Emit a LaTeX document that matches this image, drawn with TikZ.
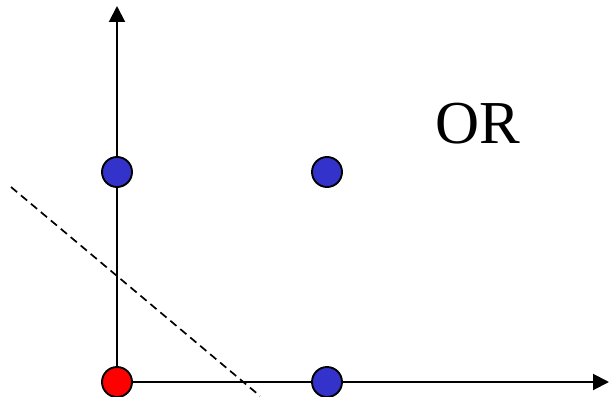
\documentclass[tikz,border=0pt]{standalone}
\usepackage{fontspec}
\setmainfont{Liberation Serif}
\usetikzlibrary{arrows.meta, backgrounds}

\begin{document}
\begin{tikzpicture}[x=1pt, y=-1pt,
    dot/.style={circle, draw, line width=1.9pt, minimum size=30pt, inner sep=0pt},
    ax/.style={-{Triangle[length=16pt, width=16pt]}, line width=2pt},
    sep/.style={line width=1.7pt, dash pattern=on 8pt off 5pt}
]
    \useasboundingbox (0,0) rectangle (609,396);
    \coordinate (ytip) at (117,6);
    \coordinate (xtip) at (609,382);
    \coordinate (cutA) at (11,187);
    \coordinate (cutB) at (260,396);
    \node[dot, fill=red] (p00) at (117,382) {};
    \node[dot, fill={rgb,255:red,51;green,51;blue,204}] (p01) at (117,172) {};
    \node[dot, fill={rgb,255:red,51;green,51;blue,204}] (p11) at (327,172) {};
    \node[dot, fill={rgb,255:red,51;green,51;blue,204}] (p10) at (327,382) {};
    \node[anchor=base, inner sep=0pt, font=\fontsize{61}{72}\selectfont] (lbl) at (477.5,143) {OR};
    \begin{scope}[on background layer]
        \draw[ax] (p00.center) -- (ytip);
        \draw[ax] (p00.center) -- (xtip);
    \end{scope}
    \draw[sep] (cutA) -- (cutB);
\end{tikzpicture}
\end{document}
